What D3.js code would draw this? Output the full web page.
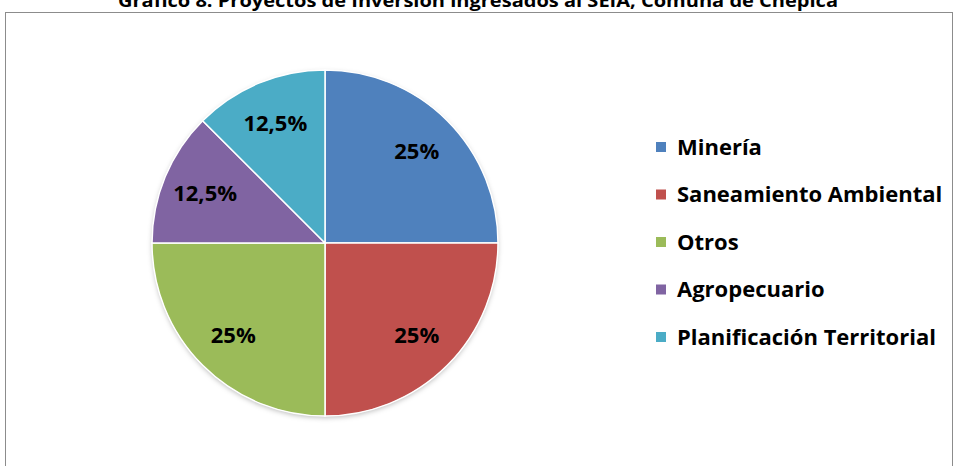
<!DOCTYPE html>
<html>
<head>
<meta charset="utf-8">
<script src="https://cdn.jsdelivr.net/npm/d3@7"></script>
<style>
  body { margin: 0; background: #fff; }
  svg { display: block; font-family: "Open Sans", Lato, sans-serif; }
</style>
</head>
<body>
<div id="chart"></div>
<script>
// data
var categories = ["Minería", "Saneamiento Ambiental", "Otros", "Agropecuario", "Planificación Territorial"];
var shares = [25, 25, 25, 12.5, 12.5];
var labels = ["25%", "25%", "25%", "12,5%", "12,5%"];
var colors = ["#4F81BD", "#C0504D", "#9BBB59", "#8064A2", "#4BACC6"];

var width = 956, height = 466;
var cx = 325, cy = 243, radius = 173;

var svg = d3.select("#chart").append("svg")
    .attr("width", width)
    .attr("height", height);

var defs = svg.append("defs");
var shadow = defs.append("filter").attr("id", "shadow")
    .attr("x", "-10%").attr("y", "-10%").attr("width", "120%").attr("height", "125%");
shadow.append("feDropShadow")
    .attr("dx", 0).attr("dy", 2).attr("stdDeviation", 2.5)
    .attr("flood-color", "#000").attr("flood-opacity", 0.25);

// chart frame
svg.append("rect")
    .attr("x", 5.5).attr("y", 12.5)
    .attr("width", 947).attr("height", 470)
    .attr("fill", "#fff")
    .attr("stroke", "#8c8c8c")
    .attr("stroke-width", 1);

// title (cut off at top in the original)
svg.append("text")
    .attr("x", 478).attr("y", 7)
    .attr("text-anchor", "middle")
    .style("font-weight", "bold")
    .style("font-size", "18px")
    .attr("textLength", 720)
    .attr("lengthAdjust", "spacingAndGlyphs")
    .text("Gráfico 8: Proyectos de Inversión ingresados al SEIA, Comuna de Chépica");

var pie = d3.pie().sort(null).value(function(d) { return d; });
var arcs = pie(shares);

var arc = d3.arc().innerRadius(0).outerRadius(radius);
var labelArc = d3.arc().innerRadius(radius * 0.75).outerRadius(radius * 0.75);

var g = svg.append("g")
    .attr("transform", "translate(" + cx + "," + cy + ")");

g.append("circle")
    .attr("r", radius)
    .attr("fill", "#fff")
    .attr("filter", "url(#shadow)");

g.selectAll("path.slice")
    .data(arcs)
  .enter().append("path")
    .attr("class", "slice")
    .attr("d", arc)
    .attr("fill", function(d, i) { return colors[i]; })
    .attr("stroke", "#fff")
    .attr("stroke-width", 1.5);

g.selectAll("text.lbl")
    .data(arcs)
  .enter().append("text")
    .attr("class", "lbl")
    .attr("transform", function(d) { return "translate(" + labelArc.centroid(d) + ")"; })
    .attr("text-anchor", "middle")
    .attr("dy", "0.36em")
    .style("font-weight", "bold")
    .style("font-size", "22px")
    .style("fill", "#000")
    .text(function(d, i) { return labels[i]; });

// legend
var legend = svg.append("g")
    .attr("transform", "translate(656,147)");

var item = legend.selectAll("g.item")
    .data(categories)
  .enter().append("g")
    .attr("class", "item")
    .attr("transform", function(d, i) { return "translate(0," + (i * 47.5) + ")"; });

item.append("rect")
    .attr("x", 0).attr("y", -5)
    .attr("width", 10).attr("height", 10)
    .attr("fill", function(d, i) { return colors[i]; });

item.append("text")
    .attr("x", 21)
    .attr("dy", "0.36em")
    .style("font-weight", "bold")
    .style("font-size", "22px")
    .style("fill", "#000")
    .text(function(d) { return d; });
</script>
</body>
</html>
